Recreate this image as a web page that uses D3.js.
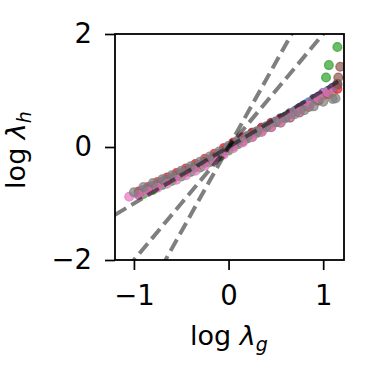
<!DOCTYPE html>
<html><head><meta charset="utf-8">
<script src="https://cdn.jsdelivr.net/npm/d3@7"></script>
<style>body{margin:0;background:#fff}svg{display:block}text{font-family:"DejaVu Sans",sans-serif}</style>
</head><body><svg id="c" width="366" height="384"></svg>
<script>
const xTicks = [-1, 0, 1];
const yTicks = [-2, 0, 2];
const slopes = [1, 2, 3];
const xGridA = [-1.05,-0.95,-0.85,-0.75,-0.65,-0.55,-0.45,-0.35,-0.25,-0.15,-0.05,0.05,0.15,0.25,0.35,0.45,0.55,0.65,0.75,0.85,0.95,1.05,1.15];
const xGridB = [-1.0,-0.9,-0.8,-0.7,-0.6,-0.5,-0.4,-0.3,-0.2,-0.1,0.0,0.1,0.2,0.3,0.4,0.5,0.6,0.7,0.8,0.9,1.0,1.1];
const yBlue   = [null,-0.82,-0.74,-0.66,-0.58,-0.50,-0.42,-0.34,-0.26,-0.17,-0.06,0.06,0.16,0.25,0.34,0.43,0.51,0.60,0.69,0.79,0.89,0.99,1.10];
const yOrange = [null,-0.77,-0.69,-0.61,-0.54,-0.47,-0.39,-0.31,-0.22,-0.12,-0.01,0.09,0.18,0.27,0.36,0.45,0.53,0.62,0.71,0.81,0.91,0.97];
const yGreen  = [null,-0.83,-0.76,-0.67,-0.60,-0.52,-0.44,-0.36,-0.27,-0.17,-0.06,0.05,0.15,0.25,0.35,0.44,0.53,0.63,0.73,0.85,null,null];
const yRed    = [null,-0.79,-0.71,-0.62,-0.54,-0.46,-0.38,-0.30,-0.21,-0.12,-0.02,0.08,0.17,0.25,0.34,0.42,0.50,0.58,0.66,0.74,0.83,0.93,1.03];
const yPurple = [null,-0.76,-0.69,-0.61,-0.54,-0.46,-0.39,-0.31,-0.22,-0.12,-0.01,0.09,0.18,0.27,0.36,0.45,0.53,0.63,0.74,0.85,0.96,1.05];
const yBrown  = [null,-0.84,-0.76,-0.68,-0.60,-0.52,-0.44,-0.36,-0.28,-0.19,-0.09,0.01,0.10,0.18,0.27,0.35,0.43,0.52,0.61,0.71,0.82,0.96,1.12];
const yPink   = [-0.88,-0.85,-0.79,-0.72,-0.65,-0.58,-0.50,-0.42,-0.33,-0.24,-0.13,-0.02,0.08,0.18,0.27,0.36,0.45,0.54,0.63,0.73,0.86,0.97,null];
const yGray   = [-0.80,-0.71,-0.64,-0.57,-0.50,-0.42,-0.34,-0.26,-0.17,-0.08,0.02,0.12,0.20,0.28,0.36,0.44,0.51,0.58,0.65,0.72,0.80,0.85];
const tailGreenX = [1.03, 1.06, 1.15];
const tailGreenY = [1.23, 1.45, 1.77];
const tailBrownX = [1.16, 1.18];
const tailBrownY = [1.23, 1.42];
const tailGrayX = [1.13];
const tailGrayY = [0.86];
const seriesNames = ["blue","orange","green","red","purple","brown","pink","gray"];
const seriesColors = ["#1f77b4","#ff7f0e","#2ca02c","#d62728","#9467bd","#8c564b","#e377c2","#7f7f7f"];
const seriesY = [yBlue,yOrange,yGreen,yRed,yPurple,yBrown,yPink,yGray];
const seriesGrid = [xGridA,xGridB,xGridB,xGridA,xGridB,xGridA,xGridA,xGridB];
const tails = {green:[tailGreenX,tailGreenY], brown:[tailBrownX,tailBrownY], gray:[tailGrayX,tailGrayY]};

const L=115, R=344, T=34, B=260;
const x = d3.scaleLinear().domain([-1.2,1.22]).range([L,R]);
const y = d3.scaleLinear().domain([-2,2]).range([B,T]);
const svg = d3.select("#c");
svg.append("defs").append("clipPath").attr("id","clip").append("rect")
  .attr("x",L).attr("y",T).attr("width",R-L).attr("height",B-T);
const plot = svg.append("g").attr("clip-path","url(#clip)");

seriesY.forEach((ys,i)=>{
  const pts = [];
  const g = seriesGrid[i];
  ys.forEach((v,j)=>{ if(v!==null) pts.push([g[j],v]); });
  const t = tails[seriesNames[i]];
  if(t) t[0].forEach((xx,j)=>pts.push([xx,t[1][j]]));
  plot.append("g").selectAll("circle").data(pts).join("circle")
    .attr("cx",d=>x(d[0])).attr("cy",d=>y(d[1])).attr("r",4.4)
    .attr("fill",seriesColors[i]).attr("fill-opacity",0.7)
    .attr("stroke",seriesColors[i]).attr("stroke-opacity",0.7).attr("stroke-width",1.3);
});

const xd = x.domain();
slopes.forEach(k=>{
  plot.append("line").attr("x1",x(xd[0])).attr("y1",y(k*xd[0])).attr("x2",x(xd[1])).attr("y2",y(k*xd[1]))
    .attr("stroke","#000").attr("stroke-opacity",0.5).attr("stroke-width",4)
    .attr("stroke-dasharray","13,6");
});

// axes
const fmt = d=>d<0?"\u2212"+Math.abs(d):d;
const xAxis = d3.axisBottom(x).tickValues(xTicks).tickSize(10).tickPadding(15).tickFormat(fmt);
const yAxis = d3.axisLeft(y).tickValues(yTicks).tickSize(10).tickPadding(13).tickFormat(fmt);
const gx = svg.append("g").attr("transform",`translate(0,${B})`).call(xAxis);
const gy = svg.append("g").attr("transform",`translate(${L},0)`).call(yAxis);
[gx,gy].forEach(g=>{
  g.select(".domain").remove();
  g.selectAll(".tick line").attr("stroke","#000").attr("stroke-width",1.7);
  g.selectAll(".tick text").attr("fill","#000").attr("font-size",27.5).attr("font-family","DejaVu Sans");
});
svg.append("rect").attr("x",L).attr("y",T).attr("width",R-L).attr("height",B-T)
  .attr("fill","none").attr("stroke","#000").attr("stroke-width",1.8);

// labels
const xl = svg.append("text").attr("x",190).attr("y",345).attr("font-size",27).attr("fill","#000");
xl.append("tspan").text("log ");
xl.append("tspan").attr("font-style","italic").text("λ");
xl.append("tspan").attr("font-style","italic").attr("font-size",19).attr("dy",6).text("g");
const yl = svg.append("text").attr("transform","translate(25,150) rotate(-90)").attr("text-anchor","middle").attr("font-size",27).attr("fill","#000");
yl.append("tspan").text("log ");
yl.append("tspan").attr("font-style","italic").text("λ");
yl.append("tspan").attr("font-style","italic").attr("font-size",19).attr("dy",6).text("h");
</script></body></html>
